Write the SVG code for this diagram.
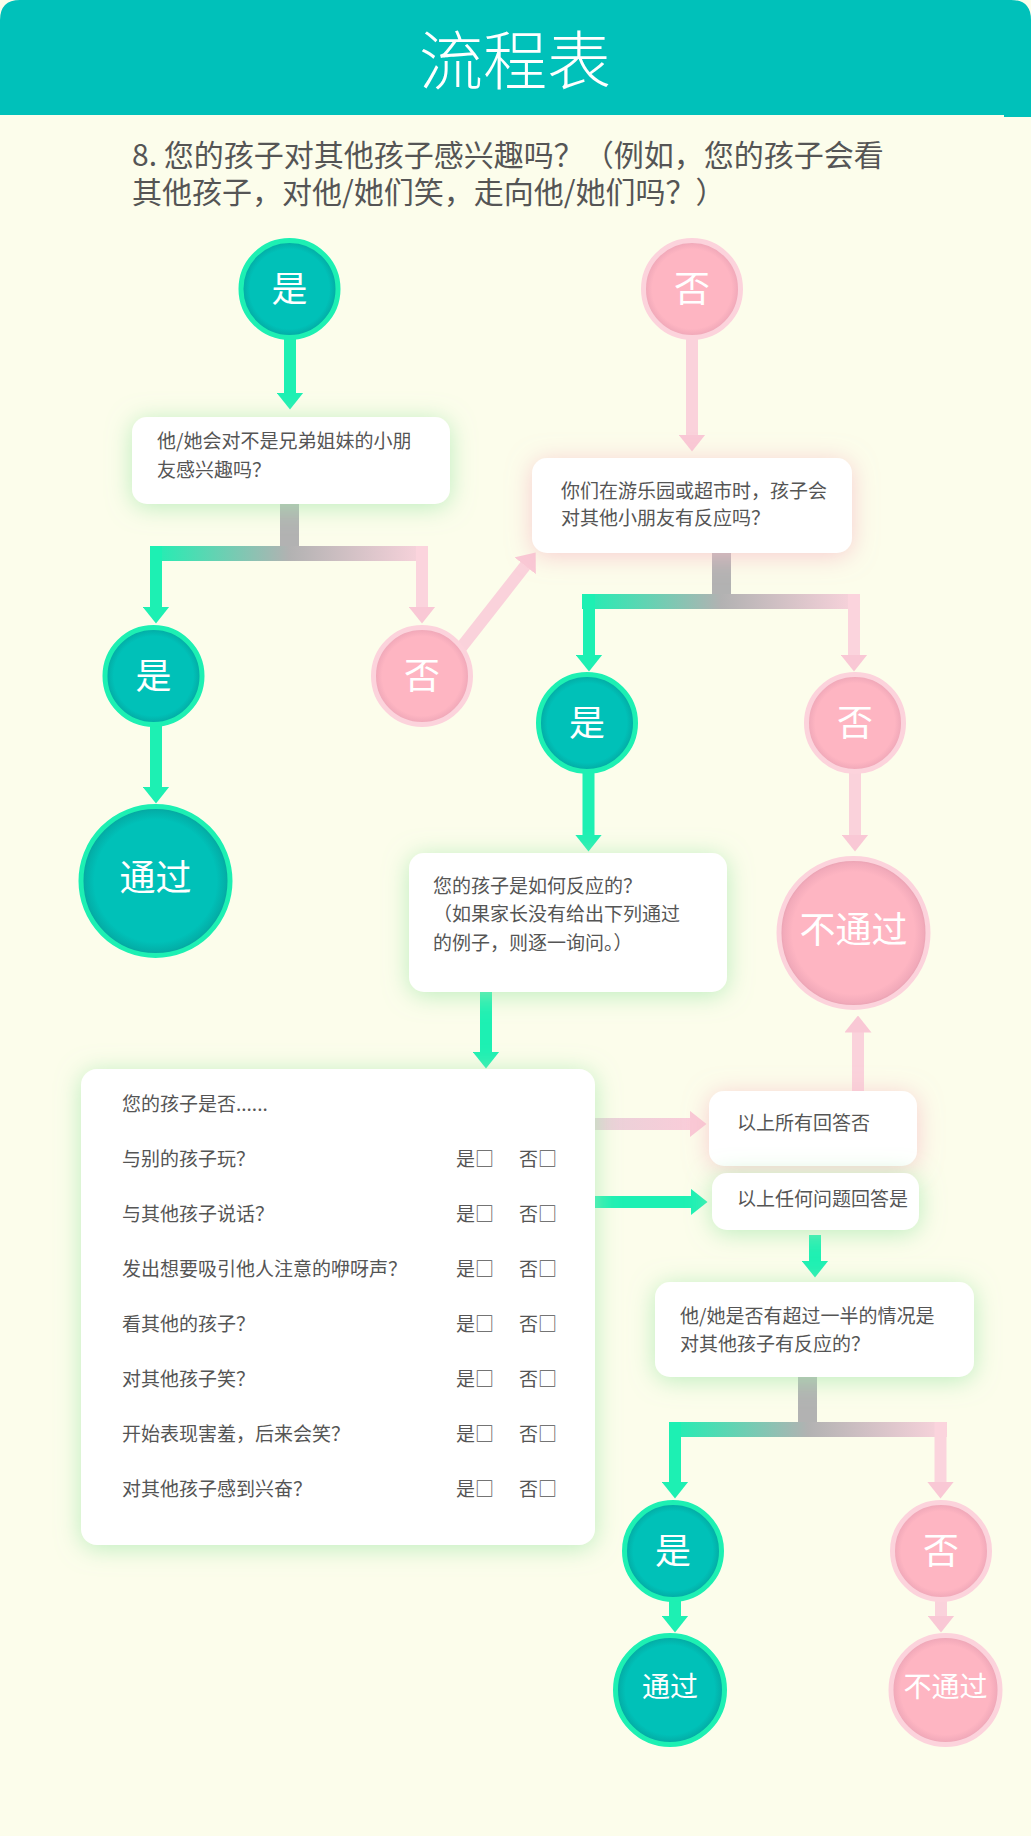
<svg xmlns="http://www.w3.org/2000/svg" width="1031" height="1836" viewBox="0 0 1031 1836">
<defs>
<style>
.t{font-family:'Noto Sans CJK SC','Noto Sans',sans-serif;fill:#555;font-size:19px}
.q{font-family:'Noto Sans CJK SC','Noto Sans',sans-serif;fill:#555;font-size:30px}
.ct{font-family:'Noto Sans CJK SC','Noto Sans',sans-serif;fill:#fff;text-anchor:middle}
.box{fill:#fff}
.tc{fill:url(#gTeal);stroke:#1DF0B3;stroke-width:5}
.pc{fill:url(#gPink);stroke:#FCD3DC;stroke-width:5}
.ga{stroke:#1DF0B3;stroke-width:12;fill:none;marker-end:url(#ahG)}
.pa{stroke:#FAD2DB;stroke-width:12;fill:none;marker-end:url(#ahP)}
.stem{fill:#B2B2B2}
</style>
<radialGradient id="gTeal" cx="0.5" cy="0.5" r="0.5">
<stop offset="0" stop-color="#00C1B8"/>
<stop offset="0.82" stop-color="#00C1B8"/>
<stop offset="0.94" stop-color="#03AFA8"/>
<stop offset="1" stop-color="#0A9F9A"/>
</radialGradient>
<radialGradient id="gPink" cx="0.5" cy="0.5" r="0.5">
<stop offset="0" stop-color="#FEB5C2"/>
<stop offset="0.82" stop-color="#FEB5C2"/>
<stop offset="0.94" stop-color="#F2AABA"/>
<stop offset="1" stop-color="#E39DAD"/>
</radialGradient>
<linearGradient id="bar1" gradientUnits="userSpaceOnUse" x1="150" y1="0" x2="428" y2="0">
<stop offset="0" stop-color="#1DF0B3"/><stop offset="0.5" stop-color="#B2B2B2"/><stop offset="1" stop-color="#FBD4DD"/>
</linearGradient>
<linearGradient id="bar2" gradientUnits="userSpaceOnUse" x1="582" y1="0" x2="860" y2="0">
<stop offset="0" stop-color="#1DF0B3"/><stop offset="0.5" stop-color="#B2B2B2"/><stop offset="1" stop-color="#FBD4DD"/>
</linearGradient>
<linearGradient id="bar3" gradientUnits="userSpaceOnUse" x1="669" y1="0" x2="947" y2="0">
<stop offset="0" stop-color="#1DF0B3"/><stop offset="0.5" stop-color="#B2B2B2"/><stop offset="1" stop-color="#FBD4DD"/>
</linearGradient>
<linearGradient id="hp" gradientUnits="userSpaceOnUse" x1="594" y1="0" x2="700" y2="0">
<stop offset="0" stop-color="#E8D2D8"/><stop offset="1" stop-color="#FBCCD9"/>
</linearGradient>
<marker id="ahG" viewBox="0 0 17 27" refX="0.5" refY="13.5" markerWidth="17" markerHeight="27" markerUnits="userSpaceOnUse" orient="auto">
<path d="M0,0 L17,13.5 L0,27 Z" fill="#1DF0B3"/>
</marker>
<marker id="ahP" viewBox="0 0 17 27" refX="0.5" refY="13.5" markerWidth="17" markerHeight="27" markerUnits="userSpaceOnUse" orient="auto">
<path d="M0,0 L17,13.5 L0,27 Z" fill="#F9C8D5"/>
</marker>
<filter id="glowG" x="-50%" y="-100%" width="200%" height="300%">
<feGaussianBlur in="SourceAlpha" stdDeviation="12" result="b"/>
<feFlood flood-color="#A6E8AE" flood-opacity="0.75"/>
<feComposite in2="b" operator="in" result="s"/>
<feOffset dx="0" dy="3" result="o"/>
<feMerge><feMergeNode in="o"/><feMergeNode in="SourceGraphic"/></feMerge>
</filter>
<filter id="glowP" x="-50%" y="-100%" width="200%" height="300%">
<feGaussianBlur in="SourceAlpha" stdDeviation="12" result="b"/>
<feFlood flood-color="#F6BCC6" flood-opacity="0.75"/>
<feComposite in2="b" operator="in" result="s"/>
<feOffset dx="0" dy="3" result="o"/>
<feMerge><feMergeNode in="o"/><feMergeNode in="SourceGraphic"/></feMerge>
</filter>
</defs>

<rect x="0" y="0" width="1031" height="1836" fill="#FCFDEB"/>

<g id="header">
<path d="M0,115 V20 Q0,0 20,0 H1011 Q1031,0 1031,20 V117 H1004 V115 Z" fill="#00C1BA"/>
<text class="ct" x="515" y="84" font-size="64" font-weight="300">流程表</text>
</g>

<g id="question">
<text class="q" x="132" y="166">8. 您的孩子对其他孩子感兴趣吗？（例如，您的孩子会看</text>
<text class="q" x="132" y="203">其他孩子，对他/她们笑，走向他/她们吗？）</text>
</g>

<g id="connectors">
<line class="ga" x1="290" y1="335" x2="290" y2="393"/>
<rect class="stem" x="280" y="495" width="19" height="66"/>
<rect x="150" y="546" width="278" height="15" fill="url(#bar1)"/>
<line class="ga" x1="156" y1="546" x2="156" y2="607"/>
<line x1="422" y1="546" x2="422" y2="607" stroke="#FBD4DD" stroke-width="12" marker-end="url(#ahP)"/>
<line class="pa" x1="692" y1="335" x2="692" y2="435"/>
<line class="pa" x1="460" y1="649" x2="525.5" y2="565.4"/>
<rect class="stem" x="712" y="548" width="19" height="61"/>
<rect x="582" y="594" width="278" height="15" fill="url(#bar2)"/>
<line class="ga" x1="589" y1="594" x2="589" y2="655"/>
<line x1="854" y1="594" x2="854" y2="655" stroke="#FBD4DD" stroke-width="12" marker-end="url(#ahP)"/>
<line class="ga" x1="156" y1="720" x2="156" y2="787"/>
<line class="ga" x1="588.5" y1="770" x2="588.5" y2="835"/>
<line class="pa" x1="855" y1="770" x2="855" y2="835"/>
<line class="ga" x1="486" y1="988" x2="486" y2="1052"/>
<line x1="594" y1="1124" x2="690" y2="1124" stroke="url(#hp)" stroke-width="12" marker-end="url(#ahP)"/>
<line class="ga" x1="594" y1="1202" x2="691" y2="1202"/>
<line class="pa" x1="858" y1="1094" x2="858" y2="1032"/>
<line class="ga" x1="815" y1="1235" x2="815" y2="1261"/>
<rect class="stem" x="798" y="1372" width="19" height="65"/>
<rect x="669" y="1422" width="278" height="15" fill="url(#bar3)"/>
<line class="ga" x1="675" y1="1422" x2="675" y2="1482"/>
<line x1="940.5" y1="1422" x2="940.5" y2="1482" stroke="#FBD4DD" stroke-width="12" marker-end="url(#ahP)"/>
<line class="ga" x1="675" y1="1597" x2="675" y2="1616"/>
<line class="pa" x1="941" y1="1597" x2="941" y2="1616"/>
</g>

<g id="n-yes1">
<circle class="tc" cx="289.5" cy="289" r="48.5"/>
<text class="ct" x="289.5" y="302" font-size="36">是</text>
</g>
<g id="n-no1">
<circle class="pc" cx="692" cy="289" r="48.5"/>
<text class="ct" x="692" y="302" font-size="36">否</text>
</g>

<g id="n-q1">
<rect class="box" x="132" y="417" width="318" height="87" rx="15" filter="url(#glowG)"/>
<text class="t" x="157" y="448">他/她会对不是兄弟姐妹的小朋</text>
<text class="t" x="157" y="477">友感兴趣吗？</text>
</g>

<g id="n-q2">
<rect class="box" x="532" y="458" width="320" height="95" rx="15" filter="url(#glowP)"/>
<text class="t" x="561" y="498">你们在游乐园或超市时，孩子会</text>
<text class="t" x="561" y="525">对其他小朋友有反应吗？</text>
</g>

<g id="n-yes2">
<circle class="tc" cx="153.5" cy="676" r="48.5"/>
<text class="ct" x="153.5" y="689" font-size="36">是</text>
</g>
<g id="n-no2">
<circle class="pc" cx="422" cy="676" r="48.5"/>
<text class="ct" x="422" y="689" font-size="36">否</text>
</g>

<g id="n-pass1">
<circle class="tc" cx="155.5" cy="881" r="74.5"/>
<text class="ct" x="155.5" y="891" font-size="36">通过</text>
</g>

<g id="n-yes3">
<circle class="tc" cx="587" cy="723" r="48.5"/>
<text class="ct" x="587" y="736" font-size="36">是</text>
</g>
<g id="n-no3">
<circle class="pc" cx="855" cy="723" r="48.5"/>
<text class="ct" x="855" y="736" font-size="36">否</text>
</g>

<g id="n-fail1">
<circle class="pc" cx="853.5" cy="933" r="74.5"/>
<text class="ct" x="853.5" y="943" font-size="36">不通过</text>
</g>

<g id="n-q3">
<rect class="box" x="409" y="853" width="318" height="139" rx="15" filter="url(#glowG)"/>
<text class="t" x="433" y="893">您的孩子是如何反应的？</text>
<text class="t" x="433" y="921">（如果家长没有给出下列通过</text>
<text class="t" x="433" y="950">的例子，则逐一询问。）</text>
</g>

<g id="n-list">
<rect class="box" x="81" y="1069" width="514" height="476" rx="16" filter="url(#glowG)"/>
<text class="t" x="122" y="1111">您的孩子是否......</text>
<text class="t" x="122" y="1166">与别的孩子玩？</text>
<text class="t" x="456" y="1166">是□</text><text class="t" x="519" y="1166">否□</text>
<text class="t" x="122" y="1221">与其他孩子说话？</text>
<text class="t" x="456" y="1221">是□</text><text class="t" x="519" y="1221">否□</text>
<text class="t" x="122" y="1276">发出想要吸引他人注意的咿呀声？</text>
<text class="t" x="456" y="1276">是□</text><text class="t" x="519" y="1276">否□</text>
<text class="t" x="122" y="1331">看其他的孩子？</text>
<text class="t" x="456" y="1331">是□</text><text class="t" x="519" y="1331">否□</text>
<text class="t" x="122" y="1386">对其他孩子笑？</text>
<text class="t" x="456" y="1386">是□</text><text class="t" x="519" y="1386">否□</text>
<text class="t" x="122" y="1441">开始表现害羞，后来会笑？</text>
<text class="t" x="456" y="1441">是□</text><text class="t" x="519" y="1441">否□</text>
<text class="t" x="122" y="1496">对其他孩子感到兴奋？</text>
<text class="t" x="456" y="1496">是□</text><text class="t" x="519" y="1496">否□</text>
</g>

<g id="n-allno">
<rect class="box" x="709" y="1091" width="208" height="75" rx="15" filter="url(#glowP)"/>
<text class="t" x="737" y="1130">以上所有回答否</text>
</g>

<g id="n-anyyes">
<rect class="box" x="712" y="1173" width="207" height="57" rx="15" filter="url(#glowG)"/>
<text class="t" x="737" y="1206">以上任何问题回答是</text>
</g>

<g id="n-q4">
<rect class="box" x="655" y="1282" width="319" height="95" rx="15" filter="url(#glowG)"/>
<text class="t" x="680" y="1323">他/她是否有超过一半的情况是</text>
<text class="t" x="680" y="1351">对其他孩子有反应的？</text>
</g>

<g id="n-yes4">
<circle class="tc" cx="673" cy="1551" r="48.5"/>
<text class="ct" x="673" y="1564" font-size="36">是</text>
</g>
<g id="n-no4">
<circle class="pc" cx="941" cy="1551" r="48.5"/>
<text class="ct" x="941" y="1564" font-size="36">否</text>
</g>

<g id="n-pass2">
<circle class="tc" cx="670" cy="1690" r="54.5"/>
<text class="ct" x="670" y="1697" font-size="28">通过</text>
</g>
<g id="n-fail2">
<circle class="pc" cx="945.5" cy="1690" r="54.5"/>
<text class="ct" x="945.5" y="1697" font-size="28">不通过</text>
</g>
</svg>
